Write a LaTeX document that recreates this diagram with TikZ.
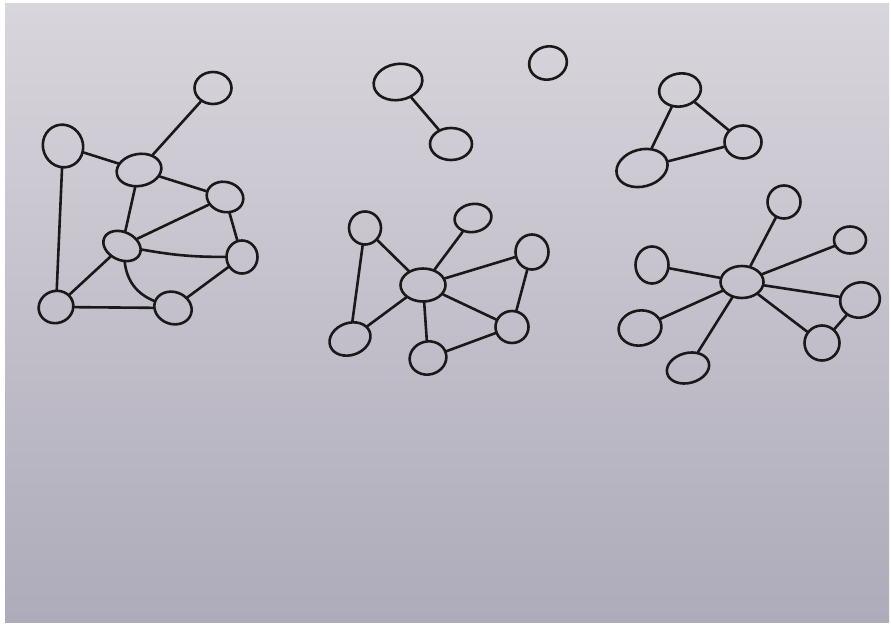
\documentclass[tikz,border=0pt]{standalone}
\usetikzlibrary{shapes.geometric}
\begin{document}
\begin{tikzpicture}[x=1pt,y=-1pt,
  vtx/.style={ellipse,draw=black!90,line width=2.6pt,inner sep=0pt,fill=none},
  edge/.style={draw=black!90,line width=2.6pt,line cap=round}]
\useasboundingbox (0,0) rectangle (891,628);
\fill[white] (0,0) rectangle (891,628);
\shade[top color={rgb,255:red,216;green,213;blue,220}, middle color={rgb,255:red,207;green,204;blue,213}, bottom color={rgb,255:red,174;green,171;blue,186}] (5,4) rectangle (889,622);
% graph 1
\node[vtx,minimum width=40pt,minimum height=43pt,rotate=20] (A) at (63,146) {};
\node[vtx,minimum width=37pt,minimum height=32pt] (B) at (213,88) {};
\node[vtx,minimum width=45pt,minimum height=32pt,rotate=10] (C) at (139,170) {};
\node[vtx,minimum width=37pt,minimum height=30pt,rotate=-15] (D) at (225,197) {};
\node[vtx,minimum width=39pt,minimum height=28pt,rotate=-25] (E) at (122,246) {};
\node[vtx,minimum width=31pt,minimum height=33pt] (F) at (242,257) {};
\node[vtx,minimum width=35pt,minimum height=32pt,rotate=20] (G) at (56,307) {};
\node[vtx,minimum width=38pt,minimum height=32pt,rotate=-20] (H) at (173,308) {};
\draw[edge] (A) -- (C);
\draw[edge] (A) -- (G);
\draw[edge] (B) -- (C);
\draw[edge] (C) -- (D);
\draw[edge] (C) -- (E);
\draw[edge] (D) -- (E);
\draw[edge] (D) -- (F);
\draw[edge] (E) to[bend right=5] (F);
\draw[edge] (E) -- (G);
\draw[edge] (E) to[bend right=30] (H);
\draw[edge] (F) -- (H);
\draw[edge] (G) -- (H);
% graph 2
\node[vtx,minimum width=49pt,minimum height=36pt,rotate=10] (I) at (398,82) {};
\node[vtx,minimum width=42pt,minimum height=32pt] (J) at (451,144) {};
\node[vtx,minimum width=38pt,minimum height=33pt,rotate=15] (K) at (548,63) {};
\draw[edge] (I) -- (J);
% graph 3
\node[vtx,minimum width=42pt,minimum height=33pt,rotate=10] (L) at (680,90) {};
\node[vtx,minimum width=37pt,minimum height=33pt] (M) at (743,142) {};
\node[vtx,minimum width=52pt,minimum height=37pt,rotate=15] (N) at (642,168) {};
\draw[edge] (L) -- (M);
\draw[edge] (L) -- (N);
\draw[edge] (M) -- (N);
% graph 4
\node[vtx,minimum width=45pt,minimum height=33pt] (P) at (423,285) {};
\node[vtx,minimum width=32pt,minimum height=33pt] (Q1) at (365,228) {};
\node[vtx,minimum width=37pt,minimum height=28pt,rotate=10] (Q2) at (473,218) {};
\node[vtx,minimum width=33pt,minimum height=35pt] (Q3) at (532,252) {};
\node[vtx,minimum width=33pt,minimum height=32pt] (Q4) at (512,327) {};
\node[vtx,minimum width=37pt,minimum height=33pt,rotate=15] (Q5) at (428,358) {};
\node[vtx,minimum width=42pt,minimum height=32pt,rotate=20] (Q6) at (350,339) {};
\foreach \q in {Q1,Q2,Q3,Q4,Q5,Q6} \draw[edge] (P) -- (\q);
\draw[edge] (Q1) -- (Q6);
\draw[edge] (Q3) -- (Q4);
\draw[edge] (Q4) -- (Q5);
% graph 5
\node[vtx,minimum width=43pt,minimum height=32pt] (R) at (742,282) {};
\node[vtx,minimum width=33pt,minimum height=33pt] (S1) at (784,202) {};
\node[vtx,minimum width=32pt,minimum height=27pt] (S2) at (850,240) {};
\node[vtx,minimum width=40pt,minimum height=35pt,rotate=15] (S3) at (860,300) {};
\node[vtx,minimum width=35pt,minimum height=35pt] (S4) at (822,343) {};
\node[vtx,minimum width=43pt,minimum height=30pt,rotate=15] (S5) at (688,368) {};
\node[vtx,minimum width=43pt,minimum height=35pt,rotate=10] (S6) at (640,328) {};
\node[vtx,minimum width=33pt,minimum height=37pt] (S7) at (652,265) {};
\foreach \s in {S1,S2,S3,S4,S5,S6,S7} \draw[edge] (R) -- (\s);
\draw[edge] (S3) -- (S4);
\end{tikzpicture}
\end{document}
